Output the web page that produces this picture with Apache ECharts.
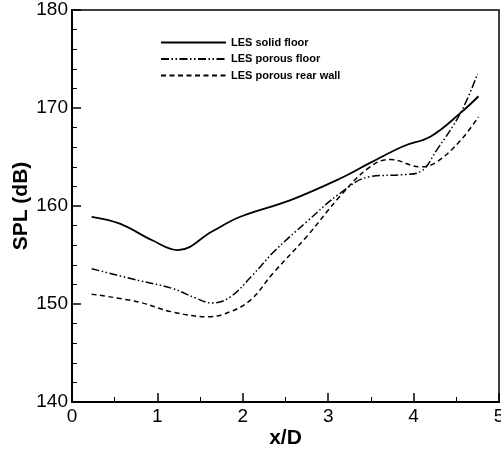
<!DOCTYPE html>
<html><head><meta charset="utf-8">
<script src="https://cdn.jsdelivr.net/npm/echarts@6/dist/echarts.min.js"></script>
<style>html,body{margin:0;padding:0;background:#fff}#c{width:501px;height:454px}</style>
</head><body><div id="c"></div>
<script>
const seriesNames = ['LES solid floor', 'LES porous floor', 'LES porous rear wall'];
const solidFloor = [[0.23,158.9],[0.56,158.2],[0.94,156.5],[1.24,155.5],[1.64,157.4],[1.97,158.9],[2.56,160.6],[3.14,162.8],[3.49,164.4],[3.88,166.1],[4.2,167.1],[4.55,169.5],[4.76,171.2]];
const porousFloor = [[0.23,153.6],[0.78,152.4],[1.17,151.6],[1.45,150.6],[1.64,150.1],[1.85,150.7],[2.11,152.9],[2.36,155.3],[2.75,158.4],[3.14,161.3],[3.49,163.0],[3.88,163.2],[4.08,163.5],[4.27,165.7],[4.55,169.5],[4.75,173.5]];
const porousRearWall = [[0.23,151.0],[0.78,150.2],[1.17,149.2],[1.6,148.7],[1.85,149.2],[2.09,150.4],[2.36,153.2],[2.75,156.9],[3.14,161.0],[3.49,164.0],[3.73,164.75],[4.08,164.0],[4.27,164.5],[4.55,166.7],[4.76,169.1]];
const xTicks = [0,1,2,3,4,5];
const yTicks = [140,150,160,170,180];

const font = 'Liberation Sans, Arial, Helvetica, sans-serif';
const chart = echarts.init(document.getElementById('c'), null, {renderer:'canvas'});
const axisCommon = {
  axisLine:{show:true,onZero:false,lineStyle:{color:'#000',width:2}},
  axisTick:{show:true,inside:true,length:9,lineStyle:{color:'#000',width:1.5}},
  minorTick:{show:true,length:5,lineStyle:{color:'#000',width:1}},
  splitLine:{show:false},
  axisLabel:{color:'#000',fontSize:19,fontFamily:font},
  nameMoveOverlap:false,
  nameTextStyle:{color:'#000',fontSize:21,fontWeight:'bold',fontFamily:font}
};
chart.setOption({
  animation:false,
  grid:{left:72,right:2,top:10,bottom:52,show:true,borderColor:'#000',borderWidth:1.5,containLabel:false,outerBoundsMode:'none'},
  legend:{
    show:true,orient:'vertical',left:155,top:32,itemWidth:65,itemHeight:10,itemGap:5.5,
    data:seriesNames,
    itemStyle:{opacity:0,borderWidth:0},
    textStyle:{color:'#000',fontSize:11,fontWeight:'bold',fontFamily:font,padding:[0,0,0,0]}
  },
  xAxis:Object.assign({},axisCommon,{
    type:'value',min:xTicks[0],max:xTicks[xTicks.length-1],interval:1,
    minorTick:Object.assign({},axisCommon.minorTick,{splitNumber:2}),
    name:'x/D',nameLocation:'middle',nameGap:26,
    axisLabel:Object.assign({},axisCommon.axisLabel,{margin:5,showMaxLabel:true})
  }),
  yAxis:Object.assign({},axisCommon,{
    type:'value',min:yTicks[0],max:yTicks[yTicks.length-1],interval:10,
    minorTick:Object.assign({},axisCommon.minorTick,{splitNumber:5}),
    name:'SPL (dB)',nameLocation:'middle',nameGap:40,
    axisLabel:Object.assign({},axisCommon.axisLabel,{margin:4})
  }),
  series:[
    {name:seriesNames[0],type:'line',data:solidFloor,smooth:0.4,showSymbol:false,symbol:'none',
     lineStyle:{color:'#000',width:1.8,type:'solid'},itemStyle:{color:'#000'}},
    {name:seriesNames[1],type:'line',data:porousFloor,smooth:0.4,showSymbol:false,symbol:'none',
     lineStyle:{color:'#000',width:1.5,type:[8,2.5,1.5,2.5,1.5,2.5]},itemStyle:{color:'#000'}},
    {name:seriesNames[2],type:'line',data:porousRearWall,smooth:0.4,showSymbol:false,symbol:'none',
     lineStyle:{color:'#000',width:1.5,type:[5,3.5]},itemStyle:{color:'#000'}}
  ]
});
</script></body></html>
